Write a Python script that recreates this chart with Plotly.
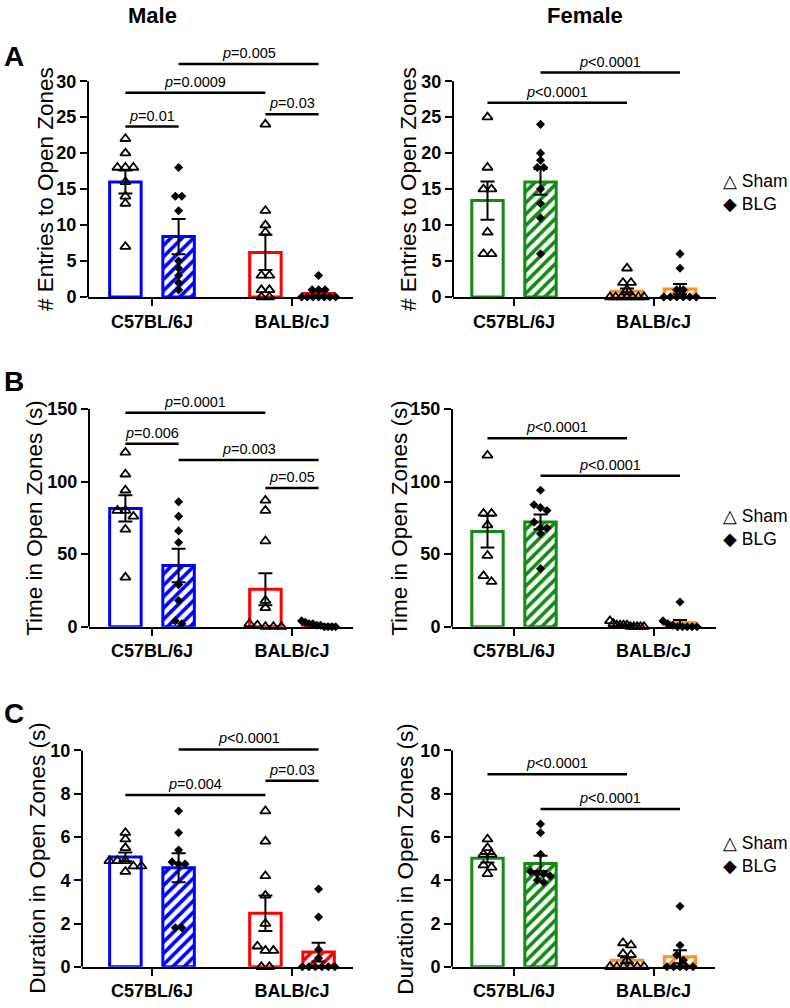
import plotly.graph_objects as go

W, H = 790, 1008
FONT = "Arial, 'Liberation Sans', sans-serif"

STRAINS = ["C57BL/6J", "BALB/cJ"]
SEXES = ["Male", "Female"]
LETTERS = ["A", "B", "C"]
Y_TITLES = ["# Entries to Open Zones", "Time in Open Zones (s)", "Duration in Open Zones (s)"]
LEGEND = "\u25b3 Sham<br>\u25c6 BLG"

# bar order in every panel: C57 Sham, C57 BLG, BALB Sham, BALB BLG
# sig entries: (bar i, bar j, bracket height, p text)

ENTRIES_M_MEAN = [16.0, 8.4, 6.2, 0.5]
ENTRIES_M_SEM = [1.6, 2.45, 2.45, 0.3]
ENTRIES_M_PTS = [
    [22, 20, 18, 18, 18, 16, 14, 13, 7],
    [18, 14, 14, 12, 5, 4, 3, 2, 1],
    [24, 12, 10, 9, 3, 3, 1, 1, 0, 0],
    [3, 1, 1, 1, 0, 0, 0, 0, 0, 0, 0],
]
ENTRIES_M_SIG = [(0, 1, 23.7, "=0.01"), (0, 2, 28.4, "=0.0009"),
                 (2, 3, 25.4, "=0.03"), (1, 3, 32.4, "=0.005")]

ENTRIES_F_MEAN = [13.4, 16.0, 0.8, 1.1]
ENTRIES_F_SEM = [2.65, 1.8, 0.4, 0.7]
ENTRIES_F_PTS = [
    [25, 18, 15, 15, 9, 6, 6],
    [24, 20, 19, 18, 18, 15, 13, 11, 6],
    [4, 2, 2, 1, 0, 0, 0, 0, 0, 0, 0],
    [6, 4, 1, 1, 0, 0, 0, 0, 0, 0],
]
ENTRIES_F_SIG = [(0, 2, 27.0, "&lt;0.0001"), (1, 3, 31.2, "&lt;0.0001")]

TIME_M_MEAN = [81.5, 42.2, 25.8, 1.2]
TIME_M_SEM = [9.0, 11.5, 11.0, 0.5]
TIME_M_PTS = [
    [120, 105, 94, 80, 80, 76, 67, 34],
    [86, 76, 66, 58, 29, 18, 4, 2],
    [87, 80, 59, 18, 13, 2, 1, 0, 0, 0],
    [4, 3, 2, 2, 1, 1, 0, 0, 0, 0],
]
TIME_M_SIG = [(0, 2, 147.3, "=0.0001"), (0, 1, 126.0, "=0.006"),
              (1, 3, 114.8, "=0.003"), (2, 3, 95.5, "=0.05")]

TIME_F_MEAN = [65.5, 72.2, 1.0, 2.7]
TIME_F_SEM = [11.0, 5.0, 0.5, 1.9]
TIME_F_PTS = [
    [118, 78, 78, 70, 49, 35, 31],
    [94, 84, 82, 80, 72, 68, 68, 64, 40],
    [4, 2, 1, 1, 1, 1, 0, 0, 0, 0, 0],
    [17, 4, 2, 1, 0, 0, 0, 0, 0],
]
TIME_F_SIG = [(0, 2, 129.8, "&lt;0.0001"), (1, 3, 104.0, "&lt;0.0001")]

DUR_M_MEAN = [5.08, 4.58, 2.48, 0.68]
DUR_M_SEM = [0.2, 0.67, 0.82, 0.43]
DUR_M_PTS = [
    [6.2, 5.9, 5.5, 4.9, 4.9, 4.9, 4.65, 4.65, 4.4],
    [7.2, 6.2, 5.4, 4.85, 4.75, 4.75, 1.8, 1.8],
    [7.2, 5.8, 4.2, 3.3, 2.0, 0.95, 0.75, 0.75, 0, 0],
    [3.6, 2.3, 0.8, 0.4, 0, 0, 0, 0, 0, 0],
]
DUR_M_SIG = [(1, 3, 10.05, "&lt;0.0001"), (2, 3, 8.6, "=0.03"), (0, 2, 7.94, "=0.004")]

DUR_F_MEAN = [5.02, 4.78, 0.3, 0.47]
DUR_F_SEM = [0.2, 0.35, 0.13, 0.3]
DUR_F_PTS = [
    [5.9, 5.5, 5.2, 5.2, 4.7, 4.6, 4.3],
    [6.6, 6.2, 5.2, 4.4, 4.3, 4.3, 4.2, 4.0, 3.9],
    [1.1, 1.0, 0.6, 0.55, 0.3, 0, 0, 0, 0, 0, 0],
    [2.8, 1.0, 0.55, 0.3, 0, 0, 0, 0, 0],
]
DUR_F_SIG = [(0, 2, 8.9, "&lt;0.0001"), (1, 3, 7.3, "&lt;0.0001")]

Y_TICKS = [list(range(0, 31, 5)), list(range(0, 151, 50)), list(range(0, 11, 2))]

PANELS = [
    (ENTRIES_M_MEAN, ENTRIES_M_SEM, ENTRIES_M_PTS, ENTRIES_M_SIG),
    (ENTRIES_F_MEAN, ENTRIES_F_SEM, ENTRIES_F_PTS, ENTRIES_F_SIG),
    (TIME_M_MEAN, TIME_M_SEM, TIME_M_PTS, TIME_M_SIG),
    (TIME_F_MEAN, TIME_F_SEM, TIME_F_PTS, TIME_F_SIG),
    (DUR_M_MEAN, DUR_M_SEM, DUR_M_PTS, DUR_M_SIG),
    (DUR_F_MEAN, DUR_F_SEM, DUR_F_PTS, DUR_F_SIG),
]

# pixel geometry: x-axis left/right, y of zero, y of top tick, y range max, title x
GEOM = [
    dict(x0=88, x1=353, zero=300, top=82, ymax=36, tx=45),
    dict(x0=453, x1=716, zero=300, top=82, ymax=36, tx=408),
    dict(x0=89, x1=353, zero=633, top=413, ymax=172, tx=35),
    dict(x0=452, x1=716, zero=633, top=413, ymax=172, tx=400),
    dict(x0=82, x1=353, zero=976.5, top=758, ymax=11.5, tx=38),
    dict(x0=452, x1=715, zero=976.5, top=758, ymax=11.5, tx=406),
]
CENTER1 = [152, 514]   # pixel of first group tick (male, female)
UNIT = [140, 139.5]    # pixels between the two groups

COLORS = [["#0000ff", "#0000ff", "#ff0000", "#ff0000"],
          ["#138a13", "#138a13", "#f7931e", "#f7931e"]]
OFF, BAR_W = 0.19, 0.225


def swarm(values, ppy, ppx, spacing, max_span=34, tol=6):
    """Spread near-equal values sideways, GraphPad style (returns x offsets)."""
    order = sorted(range(len(values)), key=lambda i: -values[i])
    rows = []
    for i in order:
        if rows and abs(values[rows[-1][0]] - values[i]) * ppy < tol:
            rows[-1].append(i)
        else:
            rows.append([i])
    offs = [0.0] * len(values)
    for row in rows:
        n = len(row)
        d = spacing if n < 2 else min(spacing, max_span / (n - 1))
        for k, i in enumerate(row):
            offs[i] = (k - (n - 1) / 2) * d / ppx
    return offs


def note(x, y, text, size, **kw):
    return dict(xref="paper", yref="paper", x=x, y=y, text=text,
                showarrow=False, xanchor=kw.pop("xanchor", "center"),
                yanchor="middle", font=dict(size=size, family=FONT), **kw)


fig = go.Figure()
shapes, annotations = [], []
layout = dict(width=W, height=H, margin=dict(l=0, r=0, t=0, b=0),
              paper_bgcolor="white", plot_bgcolor="white", showlegend=False,
              hovermode=False, font=dict(family=FONT, color="black"))

for k, ((mean, sem, pts, sig), g) in enumerate(zip(PANELS, GEOM)):
    row, sex = divmod(k, 2)
    sfx = "" if k == 0 else str(k + 1)
    xid, yid = "x" + sfx, "y" + sfx
    ticks = Y_TICKS[row]
    ppy = (g["zero"] - g["top"]) / ticks[-1]
    ppx = UNIT[sex]
    c1 = CENTER1[sex]
    xr = [1 + (g["x0"] - c1) / ppx, 1 + (g["x1"] - c1) / ppx]
    ydom = [1 - g["zero"] / H, 1 - (g["zero"] - g["ymax"] * ppy) / H]

    layout["xaxis" + sfx] = dict(
        domain=[g["x0"] / W, g["x1"] / W], range=xr, anchor=yid,
        tickvals=[1, 2], ticktext=STRAINS, ticks="outside", ticklen=7,
        tickwidth=2, tickcolor="black", showline=True, linewidth=2,
        linecolor="black", showgrid=False, zeroline=False, fixedrange=True,
        tickfont=dict(size=18, weight="bold", family=FONT))
    layout["yaxis" + sfx] = dict(
        domain=ydom, range=[0, g["ymax"]], anchor=xid, tickvals=ticks,
        ticks="outside", ticklen=7, tickwidth=2, tickcolor="black",
        showline=False, showgrid=False, zeroline=False, fixedrange=True,
        tickfont=dict(size=18, weight="bold", family=FONT))

    # y axis line only up to the top tick
    shapes.append(dict(type="line", xref=xid + " domain", yref=yid, x0=0, x1=0,
                       y0=0, y1=ticks[-1], line=dict(color="black", width=2)))

    cols = COLORS[sex]
    xs = [grp + s * OFF for grp in (1, 2) for s in (-1, 1)]
    fig.add_trace(go.Bar(
        x=xs, y=mean, width=BAR_W, xaxis=xid, yaxis=yid,
        marker=dict(color="white", line=dict(color=cols, width=3),
                    pattern=dict(shape=["", "/", "", "/"], fgcolor=cols,
                                 bgcolor="white", fgopacity=1, size=8,
                                 solidity=0.45, fillmode="overlay")),
        error_y=dict(type="data", array=sem, color="black", thickness=2, width=7),
        hoverinfo="skip"))

    for i, vals in enumerate(pts):
        sham = i % 2 == 0
        offs = swarm(vals, ppy, ppx, 8 if sham else 6.5)
        fig.add_trace(go.Scatter(
            x=[xs[i] + o for o in offs], y=vals, mode="markers",
            xaxis=xid, yaxis=yid, cliponaxis=False,
            marker=dict(symbol="triangle-up-open" if sham else "diamond",
                        size=9 if sham else 7, color="black",
                        line=dict(width=1.8 if sham else 0, color="black"))))

    for i, j, yv, txt in sig:
        shapes.append(dict(type="line", xref=xid, yref=yid, x0=xs[i], x1=xs[j],
                           y0=yv, y1=yv, line=dict(color="black", width=2.5)))
        annotations.append(dict(xref=xid, yref=yid, x=(xs[i] + xs[j]) / 2, y=yv,
                                text="<i>p</i>" + txt, showarrow=False,
                                xanchor="center", yanchor="bottom", yshift=1,
                                font=dict(size=14.5, family=FONT)))

    ymid = 1 - (g["zero"] + g["top"]) / 2 / H
    annotations.append(note(g["tx"] / W, ymid, Y_TITLES[row], 22.5, textangle=-90))

# column titles, panel letters, legends
for name, xpx in zip(SEXES, [152, 585]):
    annotations.append(note(xpx / W, 1 - 16 / H, f"<b>{name}</b>", 22))
for letter, ypx in zip(LETTERS, [57, 385, 721]):
    annotations.append(note(14 / W, 1 - ypx / H, f"<b>{letter}</b>", 28))
for ypx in [194, 533, 863]:
    annotations.append(note(789 / W, 1 - ypx / H, LEGEND, 17.5, xanchor="right",
                            align="left", borderpad=0))

layout["shapes"] = shapes
layout["annotations"] = annotations
fig.update_layout(**layout)
# the page body has a default 8px margin; drop it so the figure fills the window
fig.write_html("out.html", config={"displayModeBar": False},
               post_script="document.body.style.margin='0';")
